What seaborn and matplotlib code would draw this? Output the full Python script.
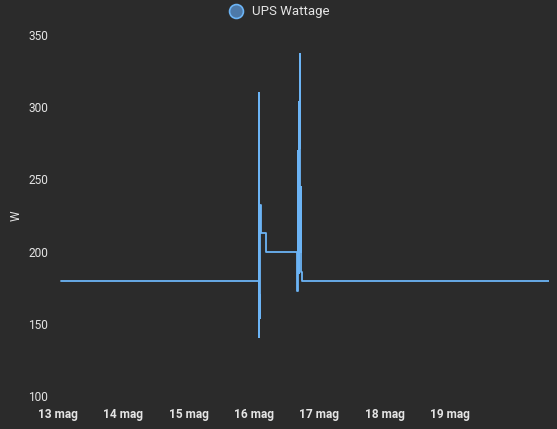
import pandas as pd
import matplotlib
matplotlib.use("Agg")
import matplotlib.pyplot as plt
from matplotlib.lines import Line2D
import seaborn as sns

# UPS power draw readings (W)
times = [
    "2024-05-13 01:05", "2024-05-13 09:00", "2024-05-13 14:00", "2024-05-13 20:00",
    "2024-05-14 06:00", "2024-05-14 14:00", "2024-05-14 22:00",
    "2024-05-15 08:00", "2024-05-15 16:00", "2024-05-16 01:40",
    "2024-05-16 01:44", "2024-05-16 01:46", "2024-05-16 01:48", "2024-05-16 01:52",
    "2024-05-16 01:55", "2024-05-16 02:00", "2024-05-16 02:10", "2024-05-16 02:20",
    "2024-05-16 02:45", "2024-05-16 04:30", "2024-05-16 16:00", "2024-05-16 16:10",
    "2024-05-16 16:20", "2024-05-16 16:30", "2024-05-16 16:40", "2024-05-16 16:45",
    "2024-05-16 16:52", "2024-05-16 16:58", "2024-05-16 17:10", "2024-05-16 17:25",
    "2024-05-16 17:40", "2024-05-17 02:00", "2024-05-17 12:00", "2024-05-17 22:00",
    "2024-05-18 10:00", "2024-05-18 20:00", "2024-05-19 08:00", "2024-05-19 18:00",
    "2024-05-20 06:00", "2024-05-20 12:27",
]
watts = [
    180, 179.5, 180, 180,
    179.5, 180, 180,
    179.5, 180, 180,
    141, 310, 150, 232,
    145, 170, 154, 232,
    213, 200, 173, 270,
    190, 304, 185, 272,
    337, 200, 245, 186,
    180, 180, 179.5, 180,
    179.5, 180, 180, 179.5,
    180, 180,
]
day_ticks = ["2024-05-13", "2024-05-14", "2024-05-15", "2024-05-16",
             "2024-05-17", "2024-05-18", "2024-05-19"]
day_labels = ["13 mag", "14 mag", "15 mag", "16 mag", "17 mag", "18 mag", "19 mag"]
y_ticks = [100, 150, 200, 250, 300, 350]

df = pd.DataFrame({"time": pd.to_datetime(times), "watts": watts})

bg = "#2b2b2b"
line_col = "#6cb4f5"
txt = "#e4e4e4"

sns.set_style("dark", {"axes.facecolor": bg, "figure.facecolor": bg})
plt.rcParams["font.family"] = ["Roboto", "DejaVu Sans"]

fig = plt.figure(figsize=(5.57, 4.29), dpi=100)
ax = fig.add_axes([0.104, 0.077, 0.882, 0.841])

sns.lineplot(data=df, x="time", y="watts", ax=ax, color=line_col,
             linewidth=1.3, drawstyle="steps-post")

ax.set_xlim(pd.Timestamp("2024-05-12 23:55"), pd.Timestamp("2024-05-20 12:35"))
ax.set_ylim(100, 350)
ax.set_xticks(pd.to_datetime(day_ticks))
ax.set_xticklabels(day_labels, fontsize=8.6, fontweight="bold", color=txt)
ax.set_yticks(y_ticks)
ax.set_yticklabels([str(v) for v in y_ticks], fontsize=8.6, color=txt)
ax.tick_params(axis="both", length=0)
ax.tick_params(axis="x", pad=9)
ax.tick_params(axis="y", pad=7)
ax.set_xlabel("")
ax.set_ylabel("W", color=txt, fontsize=8.6, labelpad=4)
ax.grid(False)
for s in ax.spines.values():
    s.set_visible(False)

handle = Line2D([], [], marker="o", linestyle="", markersize=10,
                markerfacecolor="#4d79a8", markeredgecolor=line_col, markeredgewidth=1.2)
fig.legend([handle], ["UPS Wattage"], loc="upper center", bbox_to_anchor=(0.5, 1.015),
           frameon=False, fontsize=9.5, labelcolor=txt, handletextpad=0.6,
           handlelength=1.2)

fig.savefig("out.png", dpi=100, facecolor=bg)
